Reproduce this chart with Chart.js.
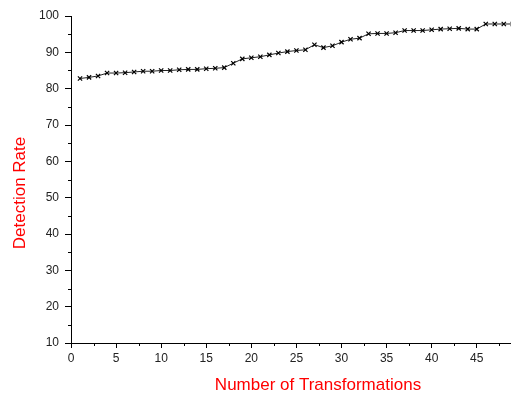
<!DOCTYPE html>
<html>
<head>
<meta charset="utf-8">
<script src="https://cdn.jsdelivr.net/npm/chart.js@4.4.1/dist/chart.umd.min.js"></script>
<style>
  html, body { margin: 0; padding: 0; background: #fff; overflow: hidden; }
  #wrap { width: 511px; height: 396px; position: relative; }
</style>
</head>
<body>
<div id="wrap"><canvas id="rateChart"></canvas></div>
<script>
const transformations = [1, 2, 3, 4, 5, 6, 7, 8, 9, 10, 11, 12, 13, 14, 15, 16, 17, 18, 19, 20, 21, 22, 23, 24, 25,
    26, 27, 28, 29, 30, 31, 32, 33, 34, 35, 36, 37, 38, 39, 40, 41, 42, 43, 44, 45, 46, 47, 48, 49];
const detectionRate = [82.8, 83.1, 83.5, 84.3, 84.3, 84.4, 84.6, 84.8, 84.8, 85.0, 85.0, 85.2, 85.3, 85.3, 85.5,
    85.6, 85.8, 87.0, 88.2, 88.5, 88.8, 89.3, 89.8, 90.2, 90.5, 90.7, 92.1, 91.3, 91.8, 92.8, 93.6, 93.9, 95.1,
    95.2, 95.2, 95.4, 96.0, 96.0, 96.0, 96.2, 96.4, 96.5, 96.6, 96.4, 96.4, 97.8, 97.8, 97.8, 97.8];
const xTitle = 'Number of Transformations';
const yTitle = 'Detection Rate';

const fontFamily = '"Liberation Sans", Arial, sans-serif';

// minor ticks and red axis titles, drawn by hand
const extrasPlugin = {
    id: 'extras',
    afterDraw(chart) {
        const ctx = chart.ctx;
        const xs = chart.scales.x;
        const ys = chart.scales.y;
        ctx.save();
        ctx.strokeStyle = '#000';
        ctx.lineWidth = 1;
        ctx.beginPath();
        for (let v = 15; v < 100; v += 10) {
            const py = Math.round(ys.getPixelForValue(v)) + 0.5;
            ctx.moveTo(xs.left - 3, py);
            ctx.lineTo(xs.left, py);
        }
        for (let v = 2.5; v < xs.max; v += 5) {
            const px = Math.round(xs.getPixelForValue(v)) + 0.5;
            ctx.moveTo(px, ys.bottom);
            ctx.lineTo(px, ys.bottom + 3);
        }
        ctx.stroke();

        ctx.fillStyle = '#ff0000';
        ctx.font = '17px ' + fontFamily;
        ctx.textAlign = 'center';
        ctx.textBaseline = 'middle';
        ctx.fillText(xTitle, 318, 385);
        ctx.translate(20, 193);
        ctx.rotate(-Math.PI / 2);
        ctx.fillText(yTitle, 0, 0);
        ctx.restore();
    }
};

const ctx = document.getElementById('rateChart').getContext('2d');
const rateChart = new Chart(ctx, {
    type: 'line',
    data: {
        labels: transformations,
        datasets: [{
            label: yTitle,
            data: transformations.map((t, i) => ({ x: t, y: detectionRate[i] })),
            borderColor: '#222',
            borderWidth: 1,
            pointStyle: 'crossRot',
            pointRadius: 3,
            pointBorderWidth: 1.2,
            pointBorderColor: '#000',
            pointBackgroundColor: '#000',
            tension: 0,
            fill: false
        }]
    },
    options: {
        responsive: true,
        maintainAspectRatio: false,
        animation: false,
        layout: { autoPadding: false, padding: { top: 16, right: 0, left: 0, bottom: 0 } },
        plugins: {
            legend: { display: false },
            tooltip: { enabled: false }
        },
        scales: {
            x: {
                type: 'linear',
                min: 0,
                max: 48.8,
                afterFit(scale) {
                    scale.height = 53;
                    scale.paddingRight = 0;
                    scale.paddingLeft = 0;
                },
                border: { color: '#000', width: 1 },
                grid: { drawOnChartArea: false, drawTicks: true, tickLength: 5, tickColor: '#000' },
                ticks: {
                    stepSize: 5,
                    includeBounds: false,
                    padding: 3,
                    maxRotation: 0,
                    color: '#222',
                    font: { family: fontFamily, size: 12 }
                }
            },
            y: {
                min: 10,
                max: 100,
                afterFit(scale) { scale.width = 71; },
                border: { color: '#000', width: 1 },
                grid: { drawOnChartArea: false, drawTicks: true, tickLength: 6, tickColor: '#000' },
                ticks: {
                    stepSize: 10,
                    padding: 6,
                    color: '#222',
                    font: { family: fontFamily, size: 12 }
                }
            }
        }
    },
    plugins: [extrasPlugin]
});
</script>
</body>
</html>
